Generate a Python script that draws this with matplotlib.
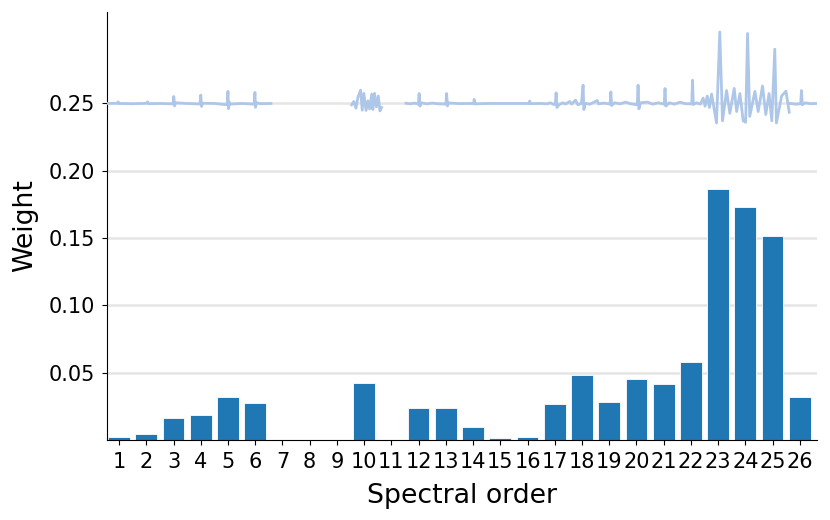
import numpy as np
import matplotlib
matplotlib.use('Agg')
import matplotlib.pyplot as plt

# bar weights per spectral order
orders = list(range(1, 27))
weights = [0.0025, 0.0045, 0.0163, 0.0188, 0.0317, 0.0275, 0.0, 0.0, 0.0, 0.0421,
           0.0, 0.0238, 0.0238, 0.0099, 0.0017, 0.0025, 0.0267, 0.0483, 0.0282, 0.0451,
           0.0416, 0.0582, 0.1862, 0.1733, 0.1514, 0.0320]

# spectrum trace drawn above the bars (nan = gap)
nan = np.nan
spec_x = [0.56, 0.95, 0.97, 0.99, 1.5, 2.0, 2.05, 2.08, 2.5, 2.98, 3.01, 3.04, 3.08, 3.5,
          3.97, 4.0, 4.03, 4.07, 4.5, 4.97, 5.0, 5.02, 5.05, 5.08, 5.5, 5.96, 5.99, 6.01,
          6.05, 6.2, 6.58, nan,
          9.54, 9.62, 9.70, 9.77, 9.87, 9.93, 9.99, 10.07, 10.14, 10.20, 10.28, 10.32,
          10.38, 10.45, 10.52, 10.58, 10.64, nan,
          11.54, 11.7, 11.85, 11.99, 12.02, 12.05, 12.1, 12.3, 12.5, 12.7, 13.0, 13.03,
          13.06, 13.1, 13.5, 14.02, 14.04, 14.07, 14.5, 15.0, 15.5, 16.05, 16.08, 16.1,
          16.5, 16.7, 16.85, 16.95, 17.02, 17.05, 17.08, 17.15, 17.3, 17.4, 17.55, 17.62,
          17.76, 17.85, 17.98, 18.04, 18.07, 18.12, 18.3, 18.56, 18.6, 18.8, 19.03, 19.06,
          19.09, 19.2, 19.4, 19.6, 19.8, 20.03, 20.06, 20.09, 20.15, 20.4, 20.6, 20.8,
          21.02, 21.05, 21.08, 21.2, 21.4, 21.6, 21.8, 22.03, 22.06, 22.09, 22.2, 22.35,
          22.45, 22.52, 22.6, 22.68, 22.76, 22.85, 22.94, 23.06, 23.16, 23.31, 23.43,
          23.59, 23.68, 23.80, 23.92, 24.01, 24.08, 24.16, 24.35, 24.47, 24.63, 24.75,
          24.87, 24.97, 25.08, 25.14, 25.33, 25.49, 25.61, nan,
          25.65, 25.85, 26.03, 26.06, 26.09, 26.2, 26.4, 26.62]
spec_y = [0.2500, 0.2502, 0.2512, 0.2500, 0.2498, 0.2501, 0.2512, 0.2498, 0.2500, 0.2497,
          0.2552, 0.2482, 0.2505, 0.2500, 0.2496, 0.2562, 0.2478, 0.2502, 0.2500, 0.2490,
          0.2590, 0.2462, 0.2510, 0.2495, 0.2500, 0.2495, 0.2582, 0.2472, 0.2505, 0.2498,
          0.2500, nan,
          0.2490, 0.2515, 0.2465, 0.2545, 0.2599, 0.2450, 0.2575, 0.2448, 0.2520, 0.2460,
          0.2570, 0.2455, 0.2575, 0.2475, 0.2555, 0.2445, 0.2470, nan,
          0.2502, 0.2497, 0.2503, 0.2495, 0.2574, 0.2480, 0.2505, 0.2497, 0.2503, 0.2498,
          0.2495, 0.2574, 0.2482, 0.2504, 0.2499, 0.2500, 0.2530, 0.2497, 0.2500, 0.2500,
          0.2500, 0.2500, 0.2518, 0.2499, 0.2500, 0.2497, 0.2505, 0.2492, 0.2495, 0.2579,
          0.2470, 0.2490, 0.2505, 0.2496, 0.2515, 0.2495, 0.2525, 0.2490, 0.2500, 0.2636,
          0.2455, 0.2500, 0.2495, 0.2522, 0.2497, 0.2503, 0.2495, 0.2586, 0.2485, 0.2505,
          0.2497, 0.2510, 0.2497, 0.2490, 0.2636, 0.2460, 0.2505, 0.2510, 0.2495, 0.2505,
          0.2495, 0.2611, 0.2480, 0.2505, 0.2495, 0.2510, 0.2498, 0.2497, 0.2673, 0.2492,
          0.2505, 0.2495, 0.2540, 0.2480, 0.2555, 0.2470, 0.2570, 0.2460, 0.2355, 0.3031,
          0.2371, 0.2596, 0.2427, 0.2612, 0.2440, 0.2574, 0.2371, 0.2360, 0.3020, 0.2404,
          0.2590, 0.2440, 0.2630, 0.2418, 0.2574, 0.2371, 0.2903, 0.2355, 0.2555, 0.2592,
          0.2435, nan,
          0.2500, 0.2495, 0.2497, 0.2596, 0.2490, 0.2505, 0.2498, 0.2500]

yticks = [0.05, 0.10, 0.15, 0.20, 0.25]

fig = plt.figure(figsize=(8.3, 5.2), dpi=100)
ax = fig.add_axes([0.129, 0.154, 0.855, 0.823])

for yt in yticks:
    ax.axhline(yt, color='#e5e5e5', lw=1.8, zorder=0)

ax.bar(orders, weights, width=0.8, color='#1f77b4', edgecolor='white', linewidth=0.6, zorder=2)
ax.plot(spec_x, spec_y, color='#aec7e8', lw=2, zorder=3)

ax.set_xlim(0.56, 26.62)
ax.set_ylim(0, 0.318)
ax.set_xticks(orders)
ax.set_xticklabels([str(o) for o in orders])
ax.set_yticks(yticks)
ax.set_yticklabels(['%.2f' % t for t in yticks])
ax.tick_params(labelsize=15, pad=5)
ax.set_xlabel('Spectral order', fontsize=19.3, labelpad=8)
ax.set_ylabel('Weight', fontsize=19.3, labelpad=8)
ax.spines['top'].set_visible(False)
ax.spines['right'].set_visible(False)

fig.savefig('out.png', dpi=100)
